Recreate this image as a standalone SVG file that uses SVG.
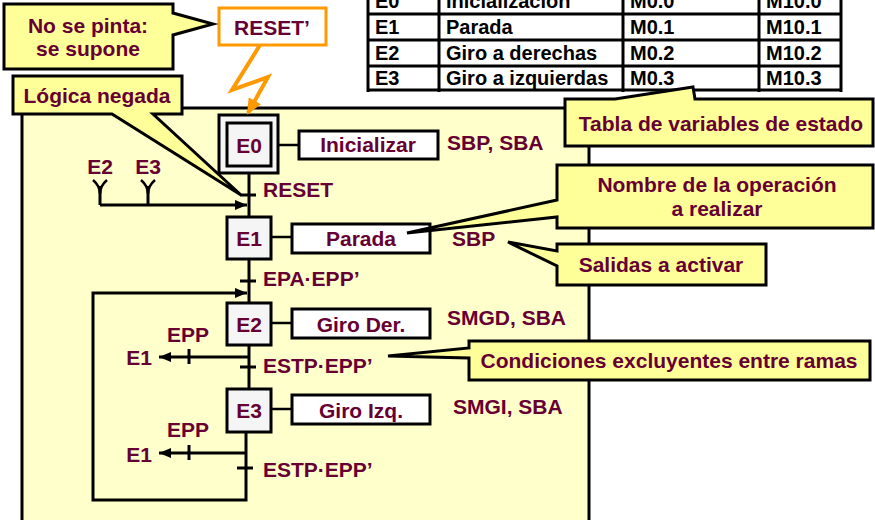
<svg xmlns="http://www.w3.org/2000/svg" width="875" height="520" viewBox="0 0 875 520">
  <defs>
    <style>
      .t { font-family: "Liberation Sans", Arial, sans-serif; font-weight: bold; font-size: 21px; fill: #660033; }
      .tb { font-family: "Liberation Sans", Arial, sans-serif; font-weight: bold; font-size: 20px; fill: #000; }
      .step { fill: #F5F5F5; stroke: #000; stroke-width: 3; }
      .act { fill: #FFFFFF; stroke: #000; stroke-width: 3; }
      .call { fill: #FFFF99; stroke: #000; stroke-width: 3; stroke-linejoin: miter; }
      .ln { fill: none; stroke: #000; stroke-width: 3; }
      .thin { fill: none; stroke: #000; stroke-width: 2.5; }
      .grid { stroke: #000; stroke-width: 3; }
    </style>
    <marker id="arrow" viewBox="0 0 12 10" refX="12" refY="5" markerWidth="12" markerHeight="10" markerUnits="userSpaceOnUse" orient="auto">
      <path d="M0,0 L12,5 L0,10 Z" fill="#000"/>
    </marker>
    <marker id="arrowOrange" viewBox="0 0 16 14" refX="14" refY="7" markerWidth="16" markerHeight="14" markerUnits="userSpaceOnUse" orient="auto">
      <path d="M0,0 L16,7 L0,14 Z" fill="#FF9900"/>
    </marker>
  </defs>

  <rect width="875" height="520" fill="#FFFFFF"/>

  <!-- state variable table -->
  <g id="tabla">
    <g class="grid">
      <line x1="368" y1="14" x2="841" y2="14"/>
      <line x1="368" y1="40" x2="841" y2="40"/>
      <line x1="368" y1="66" x2="841" y2="66"/>
      <line x1="368" y1="90" x2="841" y2="90"/>
      <line x1="368" y1="0" x2="368" y2="92"/>
      <line x1="439" y1="0" x2="439" y2="92"/>
      <line x1="623" y1="0" x2="623" y2="92"/>
      <line x1="759" y1="0" x2="759" y2="92"/>
      <line x1="841" y1="0" x2="841" y2="92"/>
    </g>
    <text class="tb" x="375" y="8">E0</text>
    <text class="tb" x="446" y="8">Inicialización</text>
    <text class="tb" x="630" y="8">M0.0</text>
    <text class="tb" x="766" y="8">M10.0</text>
    <text class="tb" x="375" y="34">E1</text>
    <text class="tb" x="446" y="34">Parada</text>
    <text class="tb" x="630" y="34">M0.1</text>
    <text class="tb" x="766" y="34">M10.1</text>
    <text class="tb" x="375" y="60">E2</text>
    <text class="tb" x="446" y="60">Giro a derechas</text>
    <text class="tb" x="630" y="60">M0.2</text>
    <text class="tb" x="766" y="60">M10.2</text>
    <text class="tb" x="375" y="85">E3</text>
    <text class="tb" x="446" y="85">Giro a izquierdas</text>
    <text class="tb" x="630" y="85">M0.3</text>
    <text class="tb" x="766" y="85">M10.3</text>
  </g>

  <!-- grafcet panel -->
  <rect id="panel" x="22" y="108" width="567" height="430" fill="#FFFFCC" stroke="#000" stroke-width="3"/>

  <!-- connectors -->
  <g id="connectors">
    <!-- main sequence line -->
    <line class="ln" x1="249" y1="173" x2="249" y2="217"/>
    <line class="ln" x1="249" y1="259" x2="249" y2="303"/>
    <line class="ln" x1="249" y1="345" x2="249" y2="388"/>
    <polyline class="ln" points="246,432 246,500 93,500 93,293 247,293" marker-end="url(#arrow)"/>
    <!-- return from E2 / E3 into E1 -->
    <line class="ln" x1="100" y1="205" x2="247" y2="205" marker-end="url(#arrow)"/>
    <line class="ln" x1="100" y1="186" x2="100" y2="205"/>
    <line class="ln" x1="148" y1="186" x2="148" y2="205"/>
    <path class="thin" d="M93,180 Q100,186 100,194 M107,180 Q100,186 100,194"/>
    <path class="thin" d="M141,180 Q148,186 148,194 M155,180 Q148,186 148,194"/>
    <!-- transition ticks -->
    <line class="ln" x1="240" y1="195" x2="256" y2="195"/>
    <line class="ln" x1="240" y1="281" x2="256" y2="281"/>
    <line class="ln" x1="240" y1="367" x2="256" y2="367"/>
    <line class="ln" x1="237" y1="468" x2="253" y2="468"/>
    <!-- exclusive branches to E1 -->
    <line class="ln" x1="249" y1="357" x2="159" y2="357" marker-end="url(#arrow)"/>
    <line class="ln" x1="189" y1="349" x2="189" y2="364"/>
    <line class="ln" x1="246" y1="453" x2="159" y2="453" marker-end="url(#arrow)"/>
    <line class="ln" x1="189" y1="445" x2="189" y2="460"/>
    <!-- step to action links -->
    <line class="thin" x1="278" y1="145" x2="299" y2="145"/>
    <line class="thin" x1="271" y1="237" x2="292" y2="237"/>
    <line class="thin" x1="271" y1="323" x2="292" y2="323"/>
    <line class="thin" x1="271" y1="409" x2="292" y2="409"/>
  </g>

  <!-- steps -->
  <g id="E0">
    <rect class="step" x="219" y="115" width="59" height="58"/>
    <rect class="step" x="227" y="123" width="44" height="43"/>
    <text class="t" x="249" y="153" text-anchor="middle">E0</text>
  </g>
  <g id="E1">
    <rect class="step" x="227" y="217" width="44" height="42"/>
    <text class="t" x="249" y="246" text-anchor="middle">E1</text>
  </g>
  <g id="E2">
    <rect class="step" x="227" y="303" width="44" height="42"/>
    <text class="t" x="249" y="332" text-anchor="middle">E2</text>
  </g>
  <g id="E3">
    <rect class="step" x="227" y="389" width="44" height="43"/>
    <text class="t" x="249" y="418" text-anchor="middle">E3</text>
  </g>

  <!-- actions -->
  <g id="act-E0">
    <rect class="act" x="299" y="131" width="139" height="28"/>
    <text class="t" x="368" y="152" text-anchor="middle">Inicializar</text>
    <text class="t" x="447" y="150">SBP, SBA</text>
  </g>
  <g id="act-E1">
    <rect class="act" x="292" y="224" width="138" height="29"/>
    <text class="t" x="361" y="246" text-anchor="middle">Parada</text>
    <text class="t" x="452" y="246">SBP</text>
  </g>
  <g id="act-E2">
    <rect class="act" x="292" y="309" width="138" height="29"/>
    <text class="t" x="361" y="332" text-anchor="middle">Giro Der.</text>
    <text class="t" x="447" y="325">SMGD, SBA</text>
  </g>
  <g id="act-E3">
    <rect class="act" x="292" y="395" width="138" height="29"/>
    <text class="t" x="361" y="418" text-anchor="middle">Giro Izq.</text>
    <text class="t" x="453" y="414">SMGI, SBA</text>
  </g>

  <!-- transition conditions and branch labels -->
  <g id="labels">
    <text class="t" x="263" y="197">RESET</text>
    <text class="t" x="263" y="286">EPA·EPP’</text>
    <text class="t" x="263" y="373">ESTP·EPP’</text>
    <text class="t" x="263" y="477">ESTP·EPP’</text>
    <text class="t" x="100" y="174" text-anchor="middle">E2</text>
    <text class="t" x="148" y="174" text-anchor="middle">E3</text>
    <text class="t" x="188" y="342" text-anchor="middle">EPP</text>
    <text class="t" x="139" y="365" text-anchor="middle">E1</text>
    <text class="t" x="188" y="437" text-anchor="middle">EPP</text>
    <text class="t" x="139" y="462" text-anchor="middle">E1</text>
  </g>

  <!-- forced reset input -->
  <g id="reset">
    <rect x="219" y="8" width="107" height="37" fill="#FFFFFF" stroke="#FF9900" stroke-width="3"/>
    <text class="t" x="272" y="35" text-anchor="middle">RESET’</text>
    <polyline points="260,45 232,90 268,77 248,113" fill="none" stroke="#FF9900" stroke-width="4" stroke-linejoin="miter" marker-end="url(#arrowOrange)"/>
  </g>

  <!-- callouts -->
  <g id="callout-nopinta">
    <path class="call" d="M4,4 H173 V13 L213,24 L173,35 V69 H4 Z"/>
    <text class="t" x="88" y="33" text-anchor="middle">No se pinta:</text>
    <text class="t" x="88" y="56" text-anchor="middle">se supone</text>
  </g>
  <g id="callout-logica">
    <path class="call" d="M13,76 H182 V114 H153 L241,195 L112,114 H13 Z"/>
    <text class="t" x="97" y="103" text-anchor="middle">Lógica negada</text>
  </g>
  <g id="callout-tabla">
    <path class="call" d="M565,99 H615 L693,87 L695,99 H873 V146 H565 Z"/>
    <text class="t" x="721" y="131" text-anchor="middle">Tabla de variables de estado</text>
  </g>
  <g id="callout-nombre">
    <path class="call" d="M557,165 H873 V228 H557 V217 L407,233 L557,200 Z"/>
    <text class="t" x="717" y="192" text-anchor="middle">Nombre de la operación</text>
    <text class="t" x="717" y="216" text-anchor="middle">a realizar</text>
  </g>
  <g id="callout-salidas">
    <path class="call" d="M557,244 H766 V285 H557 V266 L508,242 L557,251 Z"/>
    <text class="t" x="661" y="272" text-anchor="middle">Salidas a activar</text>
  </g>
  <g id="callout-condiciones">
    <path class="call" d="M469,341 H870 V380 H469 V358 L388,356 L469,348 Z"/>
    <text class="t" x="669" y="368" text-anchor="middle">Condiciones excluyentes entre ramas</text>
  </g>
</svg>
